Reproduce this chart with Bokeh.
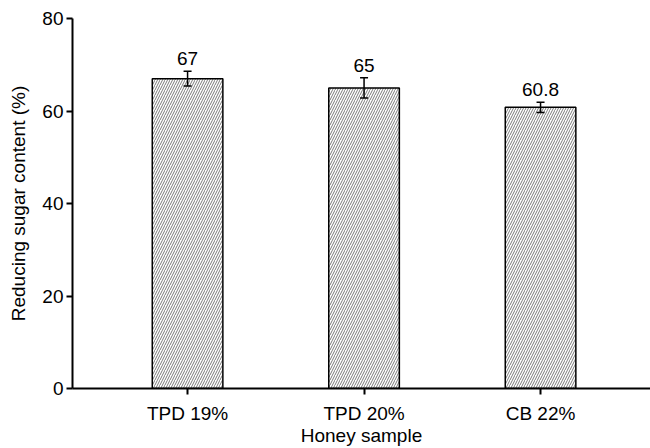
from bokeh.plotting import figure
from bokeh.models import ColumnDataSource, Whisker, FixedTicker, TeeHead, Range1d
from bokeh.embed import file_html
from bokeh.resources import INLINE
from bokeh.core.properties import value

categories = ["TPD 19%", "TPD 20%", "CB 22%"]
sugar = [67, 65, 60.8]
errors = [1.6, 2.2, 1.1]
labels = ["67", "65", "60.8"]

xs = list(range(1, len(categories) + 1))
src = ColumnDataSource(dict(
    x=xs, top=sugar,
    upper=[v + e for v, e in zip(sugar, errors)],
    lower=[v - e for v, e in zip(sugar, errors)],
    label=labels,
))

FONT = "Liberation Sans"
FS = "19px"

p = figure(width=650, height=448, output_backend="svg", toolbar_location=None,
           x_range=Range1d(0.348, 3.623), y_range=Range1d(0, 80),
           min_border_left=72, min_border_top=18, min_border_bottom=59, min_border_right=0)
p.outline_line_color = None
p.grid.grid_line_color = None

p.vbar(x="x", top="top", width=0.4, source=src, fill_color="white",
       line_color="black", line_width=1.5,
       hatch_pattern="/", hatch_color="#7a7a7a", hatch_scale=5, hatch_weight=1)

w = Whisker(base="x", upper="upper", lower="lower", source=src,
            line_color="black", line_width=1.5, level="overlay",
            upper_head=TeeHead(size=8, line_color="black", line_width=1.5),
            lower_head=TeeHead(size=8, line_color="black", line_width=1.5))
p.add_layout(w)

p.text(x="x", y="upper", text="label", source=src, text_align="center",
       text_baseline="bottom", y_offset=-6, text_font=value(FONT),
       text_font_size=FS, text_color="black")

p.xaxis.ticker = FixedTicker(ticks=xs)
p.xaxis.major_label_overrides = {x: c for x, c in zip(xs, categories)}
p.yaxis.ticker = FixedTicker(ticks=[0, 20, 40, 60, 80])

for ax in (p.xaxis, p.yaxis):
    ax.axis_line_width = 2
    ax.axis_line_color = "black"
    ax.major_tick_line_width = 2
    ax.major_tick_line_color = "black"
    ax.major_tick_out = 6
    ax.major_tick_in = 0
    ax.minor_tick_line_color = None
    ax.major_label_text_font = FONT
    ax.major_label_text_font_size = FS
    ax.major_label_text_color = "black"
    ax.axis_label_text_font = FONT
    ax.axis_label_text_font_size = FS
    ax.axis_label_text_font_style = "normal"
    ax.axis_label_text_color = "black"

p.xaxis.axis_label = "Honey sample"
p.yaxis.axis_label = "Reducing sugar content (%)"
p.xaxis.major_label_standoff = 8
p.yaxis.major_label_standoff = 3
p.xaxis.axis_label_standoff = -2
p.yaxis.axis_label_standoff = 10

open("out.html", "w").write(file_html(p, INLINE))
